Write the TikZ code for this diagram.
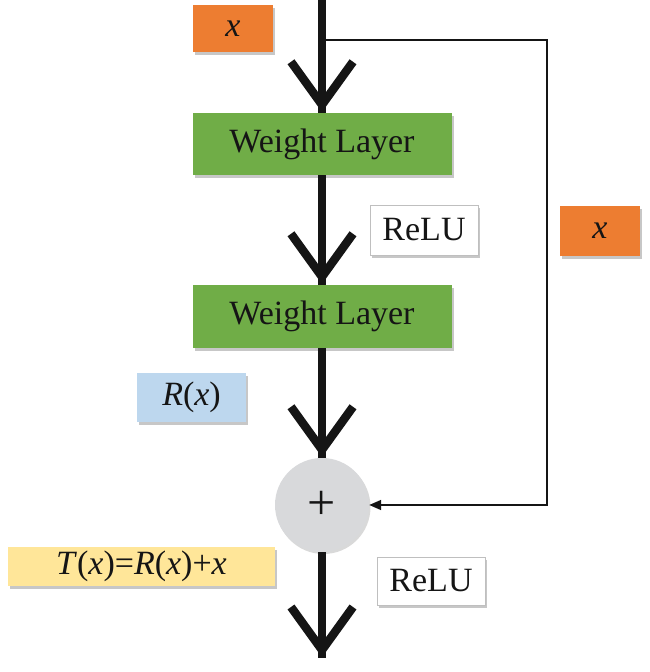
\documentclass[tikz,border=0pt]{standalone}
\usepackage{fontspec}
\setmainfont{Liberation Serif}
\usetikzlibrary{calc,shadows,arrows.meta}
\definecolor{orng}{HTML}{ED7D31}
\definecolor{grn}{HTML}{70AD47}
\definecolor{blu}{HTML}{BDD7EE}
\definecolor{ylw}{HTML}{FFE699}
\definecolor{circ}{HTML}{D8D9DB}
\definecolor{ink}{HTML}{151515}
\begin{document}
\begin{tikzpicture}[x=1pt,y=1pt,
  box/.style={inner sep=0pt, minimum width=#1, text=ink,
    font=\fontsize{34}{36}\selectfont,
    drop shadow={shadow xshift=2pt, shadow yshift=-3pt, fill=black, opacity=0.22}},
  mainline/.style={line width=7.5pt, draw=ink, line cap=butt},
  vee/.style={line width=8.5pt, draw=ink, line cap=butt, line join=miter, miter limit=10},
  fb/.style={line width=1.6pt, draw=ink, -{Triangle[length=12pt,width=10pt]}}]
\useasboundingbox (0,0) rectangle (650,672);
\fill[white] (0,0) rectangle (650,672);
% nodes
\coordinate (top) at (322,672);
\coordinate (br) at (322,632);
\coordinate (bot) at (322,14);
\node[box=80pt, minimum height=47pt, fill=orng] (xtop) at (233,643.5) {\textit{x}};
\node[box=259pt, minimum height=62pt, fill=grn] (wl1) at (322,528) {Weight Layer};
\node[box=108pt, minimum height=50pt, fill=white, draw=black!25, line width=0.8pt] (relu1) at (424,442) {ReLU};
\node[box=259pt, minimum height=63pt, fill=grn] (wl2) at (322,355.5) {Weight Layer};
\node[box=80pt, minimum height=50pt, fill=orng] (xright) at (600,441) {\textit{x}};
\node[box=109pt, minimum height=49pt, fill=blu] (rx) at (191.5,274.5) {\textit{R}(\textit{x})};
\node[circle, inner sep=0pt, minimum size=94pt, fill=circ, text=ink,
  font=\fontsize{50}{50}\selectfont,
  drop shadow={shadow xshift=1.5pt, shadow yshift=-2pt, fill=black, opacity=0.15}] (plus) at (322,167) {+};
\node[box=267pt, minimum height=39pt, fill=ylw] (tx) at (141.5,105.5) {\textit{T}(\textit{x})=\textit{R}(\textit{x})+\textit{x}};
\node[box=108pt, minimum height=48pt, fill=white, draw=black!25, line width=0.8pt] (relu2) at (431,91) {ReLU};
\coordinate (c2) at (547,167);
% main line
\draw[mainline] (top) -- (wl1.north);
\draw[mainline] (wl1.south) -- (wl2.north);
\draw[mainline] (wl2.south) -- (plus.north);
\draw[mainline] (plus.south) -- (bot);
% arrow heads
\draw[vee] ($(wl1.north)+(-31,51)$) -- ($(wl1.north)+(0,8)$) -- ($(wl1.north)+(31,51)$);
\draw[vee] ($(wl2.north)+(-31,51)$) -- ($(wl2.north)+(0,8)$) -- ($(wl2.north)+(31,51)$);
\draw[vee] ($(plus.north)+(-31,51)$) -- ($(plus.north)+(0,8)$) -- ($(plus.north)+(31,51)$);
\draw[vee] ($(bot)+(-31,51)$) -- ($(bot)+(0,8)$) -- ($(bot)+(31,51)$);
% feedback
\draw[fb] (br) -| (c2) -- (plus.east);
\end{tikzpicture}
\end{document}
